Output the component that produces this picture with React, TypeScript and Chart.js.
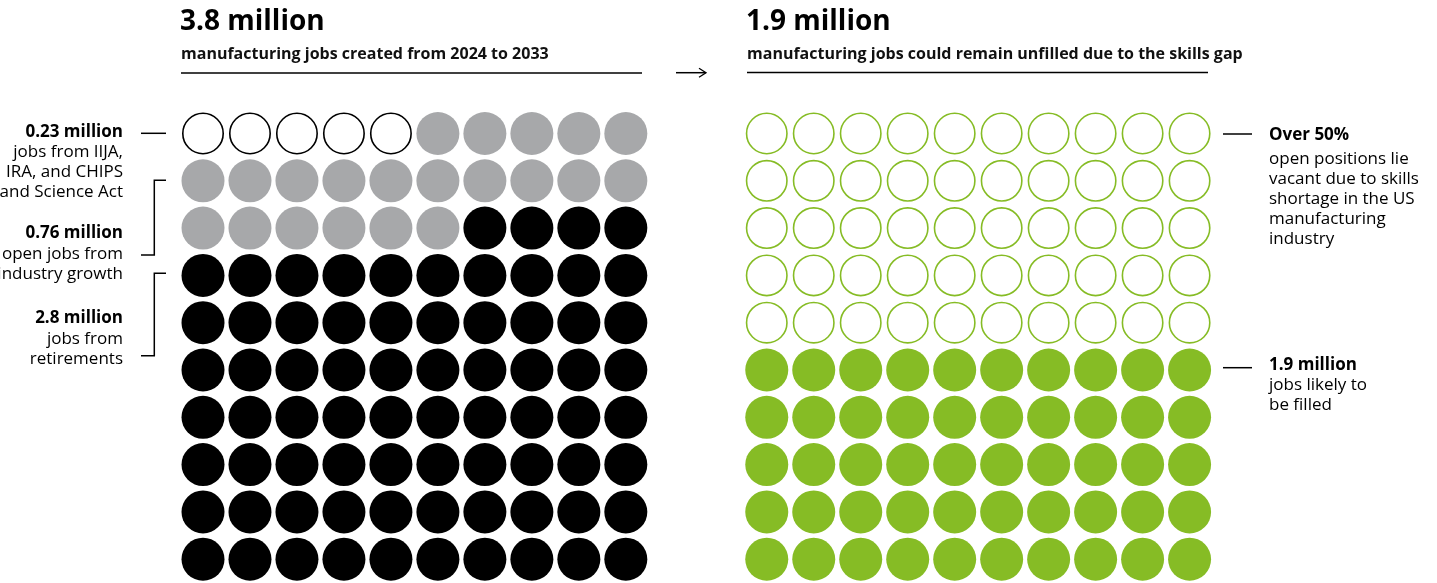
import React, { useEffect, useRef } from 'react';
import { Chart, registerables } from 'chart.js';

Chart.register(...registerables);

// ---------- data ----------
const GRID_COLS = 10;
const GRID_ROWS = 10;

const leftTotalMillions = 3.8;
const leftCategories = [
  'Jobs from IIJA, IRA, and CHIPS and Science Act',
  'Open jobs from industry growth',
  'Jobs from retirements',
];
const leftValuesMillions = [0.23, 0.76, 2.8];
const leftCells = [5, 21, 74];
const leftFill = ['#ffffff', '#a7a8aa', '#000000'];
const leftStroke = ['#000000', '#a7a8aa', '#000000'];
const leftOutlined = [true, false, false];

const rightTotalMillions = 1.9;
const rightCategories = ['Open positions vacant due to skills gap', 'Jobs likely to be filled'];
const rightCells = [50, 50];
const rightFill = ['#ffffff', '#86bc25'];
const rightStroke = ['#86bc25', '#86bc25'];
const rightOutlined = [true, false];

// ---------- layout (not data) ----------
const W = 1437;
const H = 583;
const RIGHT_GRID_COL_OFFSET = 12;
const COL_STEP = 46.98;
const ROW_STEP = 47.3;
const FIRST_COL_PX = 203;
const FIRST_ROW_PX = 133.5;

function waffle(cells: number[], colOffset: number) {
  const out: { x: number; y: number }[][] = [];
  let idx = 0;
  for (let c = 0; c < cells.length; c++) {
    const pts: { x: number; y: number }[] = [];
    for (let k = 0; k < cells[c]; k++) {
      const col = idx % GRID_COLS;
      const row = Math.floor(idx / GRID_COLS);
      if (row < GRID_ROWS) pts.push({ x: col + colOffset, y: row });
      idx++;
    }
    out.push(pts);
  }
  return out;
}

function makeDatasets(
  names: string[],
  cells: number[],
  fill: string[],
  stroke: string[],
  outlined: boolean[],
  offset: number
) {
  const pts = waffle(cells, offset);
  return names.map((n, i) => ({
    label: n,
    data: pts[i],
    pointStyle: 'circle' as const,
    pointRadius: outlined[i] ? 20.2 : 21.5,
    pointHoverRadius: outlined[i] ? 20.2 : 21.5,
    pointBorderWidth: outlined[i] ? 1.6 : 0,
    pointBackgroundColor: fill[i],
    pointBorderColor: stroke[i],
    backgroundColor: fill[i],
    borderColor: stroke[i],
    showLine: false,
    clip: false as any,
  }));
}

const FONT = "'Open Sans', 'Noto Sans', sans-serif";

type TProps = {
  x: number;
  base: number;
  text: string;
  size?: number;
  weight?: number;
  align?: 'left' | 'right';
  color?: string;
  ls?: number;
};

function T({ x, base, text, size = 17, weight = 400, align = 'left', color = '#000', ls = 0 }: TProps) {
  const style: React.CSSProperties = {
    position: 'absolute',
    top: base - 0.888 * size,
    fontFamily: FONT,
    fontSize: size,
    fontWeight: weight,
    lineHeight: `${size}px`,
    whiteSpace: 'nowrap',
    color,
    letterSpacing: ls,
  };
  if (align === 'left') style.left = x;
  else style.right = W - x;
  return <div style={style}>{text}</div>;
}

export default function App() {
  const ref = useRef<HTMLCanvasElement | null>(null);

  useEffect(() => {
    if (!ref.current) return;
    const xMin = -FIRST_COL_PX / COL_STEP;
    const xMax = xMin + W / COL_STEP;
    const yMin = -FIRST_ROW_PX / ROW_STEP;
    const yMax = yMin + H / ROW_STEP;
    const chart = new Chart(ref.current, {
      type: 'scatter',
      data: {
        datasets: [
          ...makeDatasets(leftCategories, leftCells, leftFill, leftStroke, leftOutlined, 0),
          ...makeDatasets(rightCategories, rightCells, rightFill, rightStroke, rightOutlined, RIGHT_GRID_COL_OFFSET),
        ] as any,
      },
      options: {
        animation: false,
        responsive: false,
        devicePixelRatio: 1,
        events: [],
        layout: { padding: 0, autoPadding: false },
        scales: {
          x: { type: 'linear', min: xMin, max: xMax, display: false },
          y: { type: 'linear', min: yMin, max: yMax, reverse: true, display: false },
        },
        plugins: { legend: { display: false }, tooltip: { enabled: false } },
      },
    });
    return () => chart.destroy();
  }, []);

  const fmt = (v: number) => `${v} million`;

  return (
    <div style={{ position: 'fixed', left: 0, top: 0, width: W, height: H, background: '#fff', overflow: 'hidden' }}>
      <canvas ref={ref} width={W} height={H} style={{ position: 'absolute', left: 0, top: 0, display: 'block' }} />
      <svg width={W} height={H} style={{ position: 'absolute', left: 0, top: 0 }}>
        <g stroke="#000" strokeWidth={1.5} fill="none">
          <line x1={181} y1={73} x2={642} y2={73} />
          <line x1={747} y1={72.5} x2={1208} y2={72.5} />
          <line x1={676} y1={72.7} x2={705.5} y2={72.7} />
          <polyline points="699,68.3 706,72.7 699,77.2" strokeWidth={1.3} />
          <line x1={141} y1={133.3} x2={166} y2={133.3} />
          <polyline points="166,180.3 154.3,180.3 154.3,255 141,255" />
          <polyline points="166,273.3 154.3,273.3 154.3,355.7 141,355.7" />
          <line x1={1223} y1={134} x2={1252} y2={134} />
          <line x1={1223} y1={367.7} x2={1252} y2={367.7} />
        </g>
      </svg>
      <T x={180} base={30} text={fmt(leftTotalMillions)} size={28} weight={700} />
      <T x={181} base={59.3} text="manufacturing jobs created from 2024 to 2033" size={16} weight={700} color="#111" />
      <T x={746} base={30} text={fmt(rightTotalMillions)} size={28} weight={700} />
      <T x={747} base={59.3} text="manufacturing jobs could remain unfilled due to the skills gap" size={16} weight={700} color="#111" />

      <T x={123} base={137.3} text={fmt(leftValuesMillions[0])} weight={700} align="right" />
      <T x={123} base={157} text="jobs from IIJA," align="right" />
      <T x={123} base={177} text="IRA, and CHIPS" align="right" />
      <T x={123} base={197.3} text="and Science Act" align="right" />

      <T x={123} base={238.3} text={fmt(leftValuesMillions[1])} weight={700} align="right" />
      <T x={123} base={258.6} text="open jobs from" align="right" />
      <T x={123} base={279} text="industry growth" align="right" />

      <T x={123} base={323.3} text={fmt(leftValuesMillions[2])} weight={700} align="right" />
      <T x={123} base={344} text="jobs from" align="right" />
      <T x={123} base={364.5} text="retirements" align="right" />

      <T x={1269} base={140} text="Over 50%" weight={700} />
      <T x={1269} base={164} text="open positions lie" />
      <T x={1269} base={184} text="vacant due to skills" />
      <T x={1269} base={204} text="shortage in the US" />
      <T x={1269} base={224} text="manufacturing" />
      <T x={1269} base={244} text="industry" />

      <T x={1269} base={370} text={fmt(rightTotalMillions)} weight={700} />
      <T x={1269} base={390} text="jobs likely to" />
      <T x={1269} base={410} text="be filled" />
    </div>
  );
}
